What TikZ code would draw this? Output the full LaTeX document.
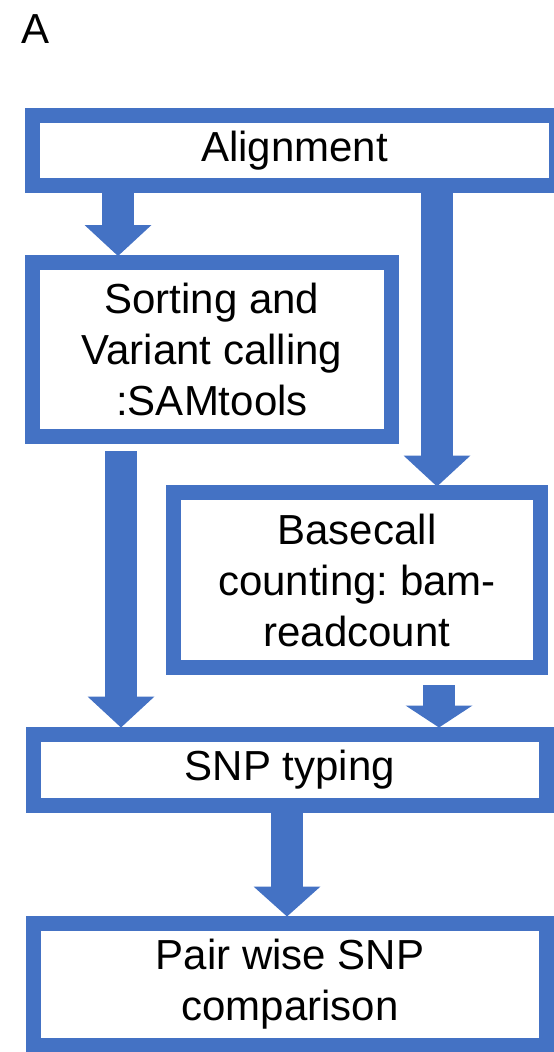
\documentclass[tikz,border=0pt]{standalone}
\usepackage{fontspec}
\setmainfont{Liberation Sans}
\frenchspacing
\usetikzlibrary{arrows.meta}
\definecolor{flowblue}{RGB}{68,114,196}
\tikzset{
  stage/.style={draw=flowblue,line width=15pt,fill=white,inner sep=0pt,outer sep=0pt,align=center,font=\fontsize{42}{51}\selectfont},
  flow/.style={draw=flowblue,line width=32pt,-{Triangle[width=67pt,length=#1,line width=0pt]}},
  flow/.default=31pt
}
\begin{document}
\begin{tikzpicture}[x=1pt,y=-1pt]
\useasboundingbox (0,0) rectangle (554,1052);
\clip (0,0) rectangle (554,1052);
\node[anchor=base west,inner sep=0pt,font=\fontsize{42}{50}\selectfont] (panel) at (21,43) {A};

\node[stage,minimum width=524pt,minimum height=70pt] (align) at (294.5,150.5) {Alignment};
\node[stage,minimum width=359pt,minimum height=174pt] (sort) at (212,349.5) {Sorting and\\Variant calling\\:SAMtools};
\node[stage,minimum width=367pt,minimum height=175pt] (count) at (357,580) {Basecall\\counting: bam-\\readcount};
\node[stage,minimum width=513pt,minimum height=71pt] (snp) at (290,770) {SNP typing};
\node[stage,minimum width=513pt,minimum height=122pt] (pair) at (290,984.5) {Pair wise SNP\\comparison};

\draw[flow] ([xshift=-176.5pt]align.south) -- ([xshift=-94pt,yshift=6.5pt]sort.north);
\draw[flow] ([xshift=142.5pt]align.south) -- ([xshift=80pt,yshift=6pt]count.north);
\draw[flow] ([xshift=-91pt,yshift=-14.5pt]sort.south) -- ([xshift=-169pt,yshift=7pt]snp.north);
\draw[flow=22pt] ([xshift=82pt,yshift=-17.5pt]count.south) -- ([xshift=149pt,yshift=7pt]snp.north);
\draw[flow=30pt] ([xshift=-3pt]snp.south) -- ([xshift=-3pt,yshift=7pt]pair.north);

\end{tikzpicture}
\end{document}
